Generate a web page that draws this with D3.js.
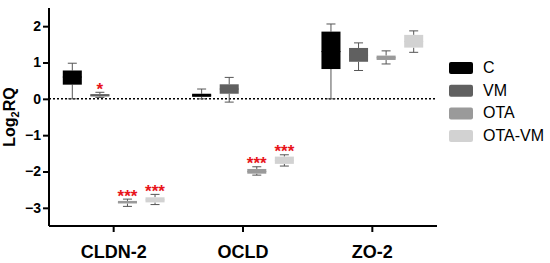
<!DOCTYPE html>
<html><head><meta charset="utf-8">
<script src="https://cdn.jsdelivr.net/npm/d3@7"></script>
<style>body{margin:0;background:#fff}svg{display:block;font-family:"Liberation Sans",Arial,sans-serif}</style>
</head><body>
<svg id="chart" width="550" height="263"></svg>
<script>
const genes = ["CLDN-2", "OCLD", "ZO-2"];
const groups = ["C", "VM", "OTA", "OTA-VM"];
const colors = ["#000000", "#606060", "#9a9a9a", "#d2d2d2"];
// [min, q1, median, q3, max] per gene per group
const boxC = [[0.0, 0.39, 0.6, 0.78, 0.98], [0.0, 0.055, 0.1, 0.14, 0.27], [0.0, 0.82, 1.3, 1.85, 2.06]];
const boxVM = [[0.04, 0.065, 0.1, 0.13, 0.18], [-0.09, 0.14, 0.27, 0.40, 0.59], [0.78, 1.02, 1.2, 1.40, 1.54]];
const boxOTA = [[-2.96, -2.88, -2.85, -2.81, -2.76], [-2.10, -2.06, -2.0, -1.93, -1.87], [0.96, 1.07, 1.13, 1.19, 1.32]];
const boxOTAVM = [[-2.91, -2.85, -2.78, -2.71, -2.63], [-1.85, -1.79, -1.69, -1.59, -1.54], [1.28, 1.41, 1.58, 1.76, 1.87]];
const stars = [["", "*", "***", "***"], ["", "", "***", "***"], ["", "", "", ""]];
const yTicks = [-3, -2, -1, 0, 1, 2];

const series = [boxC, boxVM, boxOTA, boxOTAVM];
const svg = d3.select("#chart");
const x0 = 49, x1 = 437;
const y = d3.scaleLinear().domain([-3.5, 2.5]).range([226, 8]);
const xb = d3.scaleBand().domain(genes).range([x0, x1]);
const xs = d3.scaleBand().domain(groups).range([0, xb.bandwidth()]).paddingInner(0.31).paddingOuter(0.5);

// zero line
svg.append("line").attr("x1", x0).attr("x2", x1).attr("y1", y(0)).attr("y2", y(0))
  .attr("stroke", "#000").attr("stroke-width", 1.5).attr("stroke-dasharray", "2,2");

// boxes
genes.forEach((g, gi) => {
  groups.forEach((s, si) => {
    const d = series[si][gi];
    const bx = xb(g) + xs(s), bw = xs.bandwidth(), cx = bx + bw / 2;
    const gg = svg.append("g");
    const wc = "#555";
    gg.append("line").attr("x1", cx).attr("x2", cx).attr("y1", y(d[4])).attr("y2", y(d[3])).attr("stroke", wc);
    gg.append("line").attr("x1", cx).attr("x2", cx).attr("y1", y(d[1])).attr("y2", y(d[0])).attr("stroke", wc);
    gg.append("line").attr("x1", cx - 4.5).attr("x2", cx + 4.5).attr("y1", y(d[4])).attr("y2", y(d[4])).attr("stroke", wc);
    gg.append("line").attr("x1", cx - 4.5).attr("x2", cx + 4.5).attr("y1", y(d[0])).attr("y2", y(d[0])).attr("stroke", wc);
    gg.append("rect").attr("x", bx).attr("width", bw).attr("y", y(d[3])).attr("height", Math.max(1, y(d[1]) - y(d[3])))
      .attr("fill", colors[si]);
    gg.append("line").attr("x1", bx).attr("x2", bx + bw).attr("y1", y(d[2])).attr("y2", y(d[2])).attr("stroke", colors[si]);
    if (stars[gi][si]) {
      const fs = 17;
      gg.append("text").attr("x", cx).attr("y", y(d[4]) - 7 + 0.56 * fs).attr("text-anchor", "middle")
        .attr("fill", "#e8141a").attr("font-size", fs).attr("font-weight", "bold").text(stars[gi][si]);
    }
  });
});

// y axis
const ya = svg.append("g").attr("transform", `translate(${x0},0)`)
  .call(d3.axisLeft(y).tickValues(yTicks).tickSize(6).tickFormat(d => d < 0 ? "\u2212" + Math.abs(d) : d));
ya.select(".domain").attr("stroke-width", 2).attr("d", `M0,${y(2.5)}V${y(-3.5)}`);
ya.selectAll(".tick line").attr("stroke-width", 2);
ya.selectAll("text").attr("font-size", 14).attr("font-weight", "bold").attr("font-family", "Liberation Sans, Arial, sans-serif").attr("fill", "#000").attr("x", -8);

// x axis
const xa = svg.append("g").attr("transform", `translate(0,${y(-3.5)})`)
  .call(d3.axisBottom(xb).tickSize(6));
xa.select(".domain").attr("stroke-width", 2).attr("d", `M${x0},0H${x1}`);
xa.selectAll(".tick line").attr("stroke-width", 2);
xa.selectAll("text").attr("font-size", 18).attr("font-weight", "bold").attr("font-family", "Liberation Sans, Arial, sans-serif").attr("fill", "#000").attr("dy", 0).attr("y", 32);

// y label
svg.append("text").attr("transform", "translate(15,117) rotate(-90)").attr("text-anchor", "middle")
  .attr("font-size", 16).attr("font-weight", "bold")
  .html('Log<tspan font-size="11" dy="4">2</tspan><tspan dy="-4">RQ</tspan>');

// legend
const lg = svg.append("g").attr("transform", "translate(449,62)");
groups.forEach((s, i) => {
  lg.append("rect").attr("x", 0).attr("y", i * 22.7).attr("width", 24).attr("height", 12).attr("rx", 2).attr("fill", colors[i]);
  lg.append("text").attr("x", 34).attr("y", i * 22.7 + 10.8).attr("font-size", 16).attr("fill", "#000").text(s);
});
</script>
</body></html>
